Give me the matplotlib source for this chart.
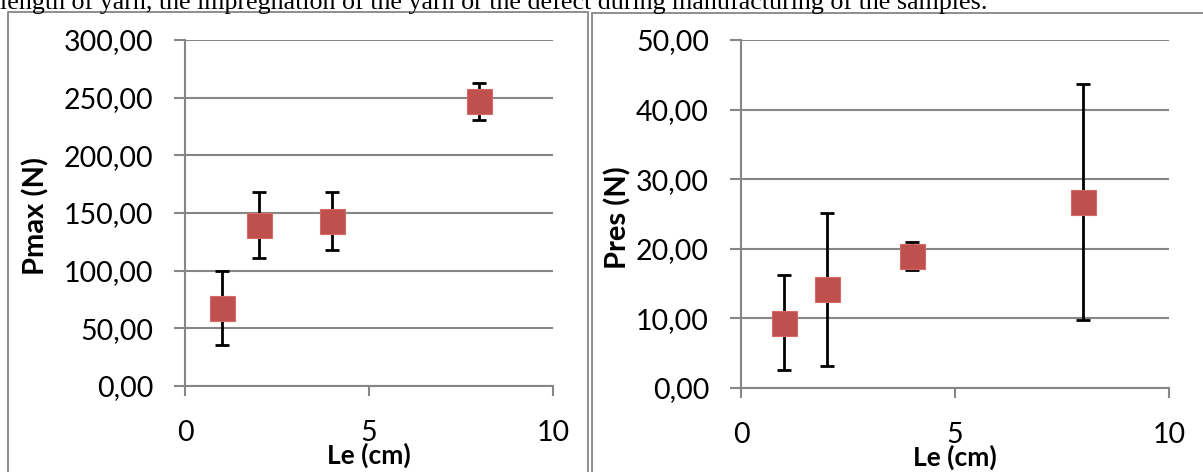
import matplotlib
matplotlib.use("Agg")
import matplotlib.pyplot as plt
from matplotlib.lines import Line2D
from matplotlib.ticker import FuncFormatter

# data
le = [1, 2, 4, 8]
pmax = [67.5, 139.6, 143.0, 246.8]
pmax_err = [32.0, 29.0, 25.5, 16.0]
pres = [9.4, 14.2, 19.0, 26.7]
pres_err = [6.8, 11.0, 2.0, 17.0]

xticks = [0, 5, 10]
pmax_ticks = [0, 50, 100, 150, 200, 250, 300]
pres_ticks = [0, 10, 20, 30, 40, 50]

caption = "length of yarn, the impregnation of the yarn or the defect during manufacturing of the samples."

W, H = 1203, 472
grey = "#868686"
red = "#C0504D"

plt.rcParams['font.family'] = ['Lato', 'DejaVu Sans']

fig = plt.figure(figsize=(W / 100, H / 100), dpi=100)


def px_box(x0, x1, y0, y1):
    # axes rectangle from pixel edges (top-left origin)
    return [x0 / W, 1 - y1 / H, (x1 - x0) / W, (y1 - y0) / H]


def comma(v, pos):
    return ("%.2f" % v).replace(".", ",")


def panel(rect, y, yerr, yticks, ylabel, ylab_x):
    ax = fig.add_axes(rect)
    ax.errorbar(le, y, yerr=yerr, fmt='none', ecolor='black', elinewidth=2,
                capsize=5, capthick=2, zorder=3)
    ax.plot(le, y, 's', color=red, markersize=18, markeredgecolor='#D46A67',
            markeredgewidth=0.8, zorder=4, clip_on=False)
    ax.set_xlim(xticks[0], xticks[-1])
    ax.set_ylim(yticks[0], yticks[-1])
    ax.set_xticks(xticks)
    ax.set_yticks(yticks)
    ax.yaxis.set_major_formatter(FuncFormatter(comma))
    ax.grid(axis='y', color=grey, linewidth=1.5)
    ax.set_axisbelow(True)
    for s in ['top', 'right']:
        ax.spines[s].set_visible(False)
    for s in ['left', 'bottom']:
        ax.spines[s].set_color(grey)
        ax.spines[s].set_linewidth(1.5)
    ax.tick_params(axis='y', direction='out', length=8, width=1.5, color=grey,
                   labelsize=20.5, pad=15)
    ax.tick_params(axis='x', direction='out', length=7.5, width=1.5, color=grey,
                   labelsize=20.5, pad=17)
    ax.set_ylabel(ylabel, fontsize=21, fontweight='bold', va='center')
    ax.yaxis.set_label_coords(ylab_x, 0.49)
    ax.set_xlabel("Le (cm)", fontsize=19, fontweight='bold', va='center')
    ax.xaxis.set_label_coords(0.5, -0.2)
    return ax


panel(px_box(185, 553, 40, 386), pmax, pmax_err, pmax_ticks, "Pmax (N)", -0.405)
panel(px_box(741, 1169, 40, 388), pres, pres_err, pres_ticks, "Pres (N)", -0.287)

# frames of the two embedded charts
def seg(xs, ys):
    fig.add_artist(Line2D([x / W for x in xs], [1 - y / H for y in ys],
                          color=grey, linewidth=1.3))

seg([8, 8, 588, 588], [H + 5, 12, 12, H + 5])
seg([592, 592, W + 5], [H + 5, 13, 13])

# body text line cut off by the crop
fig.text(0.0, 1 - 9 / H, caption, fontsize=18.7, family=['Liberation Serif'],
         ha='left', va='baseline')

fig.savefig("out.png", dpi=100)
